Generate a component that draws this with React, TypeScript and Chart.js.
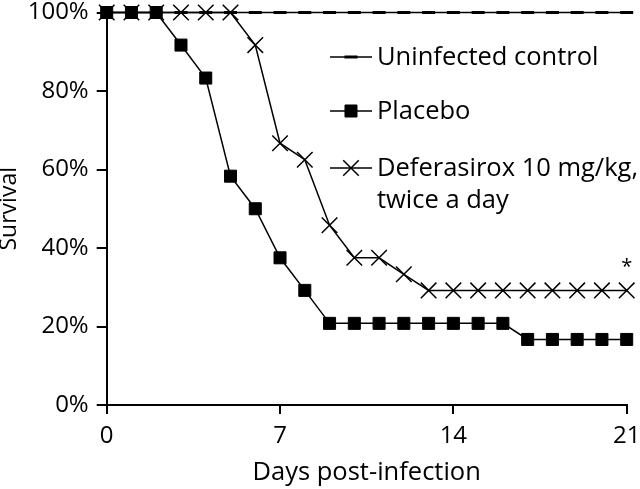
import { useEffect, useRef } from 'react';
import { Chart, registerables } from 'chart.js';
import { drawPoint } from 'chart.js/helpers';

Chart.register(...registerables);

const DAYS = [0, 1, 2, 3, 4, 5, 6, 7, 8, 9, 10, 11, 12, 13, 14, 15, 16, 17, 18, 19, 20, 21];
const CONTROL = [100, 100, 100, 100, 100, 100, 100, 100, 100, 100, 100, 100, 100, 100, 100, 100, 100, 100, 100, 100, 100, 100];
const PLACEBO = [100, 100, 100, 91.7, 83.3, 58.3, 50, 37.5, 29.2, 20.8, 20.8, 20.8, 20.8, 20.8, 20.8, 20.8, 20.8, 16.7, 16.7, 16.7, 16.7, 16.7];
const DEFERASIROX = [100, 100, 100, 100, 100, 100, 91.7, 66.7, 62.5, 45.8, 37.5, 37.5, 33.3, 29.2, 29.2, 29.2, 29.2, 29.2, 29.2, 29.2, 29.2, 29.2];
const SERIES_LABELS = ['Uninfected control', 'Placebo', 'Deferasirox 10 mg/kg,\ntwice a day'];
const X_TICKS = [0, 7, 14, 21];
const Y_TICKS = [0, 20, 40, 60, 80, 100];
const X_TITLE = 'Days post-infection';
const Y_TITLE = 'Survival';
const SIGNIFICANCE_MARK = '*';

const FONT = "'Open Sans', 'DejaVu Sans', sans-serif";

const toPoints = (vals: number[]) => DAYS.map((d, i) => ({ x: d, y: vals[i] }));

const legendPlugin = {
  id: 'customLegend',
  afterDatasetsDraw(chart: any) {
    const ctx = chart.ctx as CanvasRenderingContext2D;
    const rows = [57, 111, 168];
    chart.data.datasets.forEach((ds: any, i: number) => {
      const y = rows[i];
      ctx.save();
      ctx.strokeStyle = '#000';
      ctx.fillStyle = '#000';
      ctx.lineWidth = 1.5;
      ctx.beginPath();
      ctx.moveTo(330, y);
      ctx.lineTo(372, y);
      ctx.stroke();
      ctx.lineWidth = ds.pointBorderWidth;
      drawPoint(ctx, { pointStyle: ds.pointStyle, rotation: 0, radius: ds.pointRadius, borderWidth: ds.pointBorderWidth } as any, 351, y);
      ctx.font = `25.5px ${FONT}`;
      ctx.textBaseline = 'middle';
      ctx.textAlign = 'left';
      String(ds.label).split('\n').forEach((line: string, k: number) => {
        ctx.fillText(line, 377, y + 1 + k * 32);
      });
      ctx.restore();
    });
  },
};

const markPlugin = {
  id: 'significance',
  afterDatasetsDraw(chart: any) {
    const ctx = chart.ctx as CanvasRenderingContext2D;
    const xs = chart.scales.x;
    const ys = chart.scales.y;
    const lastDay = DAYS[DAYS.length - 1];
    const lastVal = DEFERASIROX[DEFERASIROX.length - 1];
    ctx.save();
    ctx.fillStyle = '#000';
    ctx.font = `20px ${FONT}`;
    ctx.textAlign = 'center';
    ctx.textBaseline = 'middle';
    ctx.fillText(SIGNIFICANCE_MARK, xs.getPixelForValue(lastDay), ys.getPixelForValue(lastVal) - 23);
    ctx.restore();
  },
};

export default function App() {
  const ref = useRef<HTMLCanvasElement | null>(null);
  useEffect(() => {
    if (!ref.current) return;
    Chart.defaults.font.family = FONT;
    Chart.defaults.color = '#000';
    const chart = new Chart(ref.current, {
      type: 'line',
      data: {
        datasets: [
          {
            label: SERIES_LABELS[0],
            data: toPoints(CONTROL),
            borderColor: '#000',
            backgroundColor: '#000',
            borderWidth: 1.5,
            pointStyle: 'line',
            pointRadius: 6.5,
            pointBorderWidth: 3,
            tension: 0,
            order: 3,
            clip: false as any,
          },
          {
            label: SERIES_LABELS[1],
            data: toPoints(PLACEBO),
            borderColor: '#000',
            backgroundColor: '#000',
            borderWidth: 1.5,
            pointStyle: 'rect',
            pointRadius: 8.5,
            pointBorderWidth: 1,
            tension: 0,
            order: 1,
            clip: false as any,
          },
          {
            label: SERIES_LABELS[2],
            data: toPoints(DEFERASIROX),
            borderColor: '#000',
            backgroundColor: '#000',
            borderWidth: 1.5,
            pointStyle: 'crossRot',
            pointRadius: 11,
            pointBorderWidth: 1.5,
            tension: 0,
            order: 2,
            clip: false as any,
          },
        ],
      },
      options: {
        responsive: false,
        animation: false,
        devicePixelRatio: 1,
        layout: { padding: { top: 0, right: 0, left: 0, bottom: 0 } },
        plugins: { legend: { display: false }, tooltip: { enabled: false } },
        scales: {
          x: {
            type: 'linear',
            min: 0,
            max: 21,
            afterBuildTicks: (s: any) => {
              s.ticks = X_TICKS.map((v) => ({ value: v }));
            },
            afterFit: (s: any) => {
              s.height = 84;
              s.paddingLeft = 0;
              s.paddingRight = 13.3;
            },
            grid: { display: true, drawOnChartArea: false, drawTicks: true, tickLength: 9, color: '#000', lineWidth: 2 },
            border: { display: true, color: '#000', width: 2 },
            ticks: { font: { size: 24 }, color: '#000', padding: 8, maxRotation: 0 },
            title: { display: true, text: X_TITLE, font: { size: 25.5 }, color: '#000', padding: { top: 0, bottom: 1 } },
          },
          y: {
            type: 'linear',
            min: 0,
            max: 100,
            afterBuildTicks: (s: any) => {
              s.ticks = Y_TICKS.map((v) => ({ value: v }));
            },
            afterFit: (s: any) => {
              s.width = 106.7;
              s.paddingTop = 10;
              s.paddingBottom = 0;
            },
            grid: { display: true, drawOnChartArea: false, drawTicks: true, tickLength: 10, color: '#000', lineWidth: 2 },
            border: { display: true, color: '#000', width: 2 },
            ticks: { font: { size: 24 }, color: '#000', padding: 8, callback: (v: any) => `${v}%` },
            title: { display: true, text: Y_TITLE, font: { size: 23, lineHeight: 0.8 }, color: '#000', padding: { top: 0, bottom: 0 } },
          },
        },
      },
      plugins: [legendPlugin, markPlugin],
    });
    return () => chart.destroy();
  }, []);
  return (
    <div style={{ position: 'absolute', left: 0, top: 0, width: 640, height: 489, background: '#fff' }}>
      <canvas ref={ref} width={640} height={489} />
    </div>
  );
}
